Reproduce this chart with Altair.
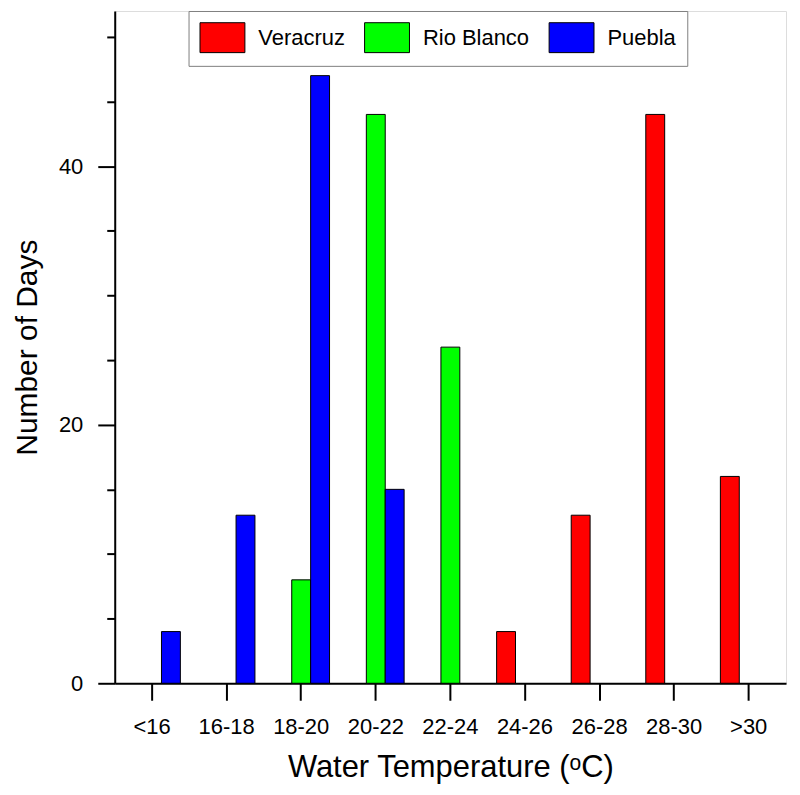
import altair as alt
import pandas as pd

categories = ["<16", "16-18", "18-20", "20-22", "22-24", "24-26", "26-28", "28-30", ">30"]
series = ["Veracruz", "Rio Blanco", "Puebla"]
veracruz = [0, 0, 0, 0, 0, 4, 13, 44, 16]
rio_blanco = [0, 0, 8, 44, 26, 0, 0, 0, 0]
puebla = [4, 13, 47, 15, 0, 0, 0, 0, 0]
colors = ["#ff0000", "#00ff00", "#0000ff"]
y_ticks = [0, 5, 10, 15, 20, 25, 30, 35, 40, 45, 50]

rows = []
for s, vals in zip(series, [veracruz, rio_blanco, puebla]):
    for c, v in zip(categories, vals):
        rows.append({"range": c, "site": s, "days": v})
df = pd.DataFrame(rows)

FONT = "Liberation Sans"

chart = (
    alt.Chart(df)
    .transform_filter("datum.days > 0")
    .mark_bar(stroke="black", strokeWidth=1)
    .encode(
        x=alt.X(
            "range:N",
            sort=categories,
            scale=alt.Scale(domain=categories, paddingInner=0.24, paddingOuter=0.12),
            axis=alt.Axis(
                title="Water Temperature (ᵒC)",
                labelAngle=0,
                labelFontSize=22,
                labelFont=FONT,
                labelColor="black",
                labelPadding=16,
                tickSize=17,
                tickWidth=2,
                tickColor="black",
                domainColor="black",
                domainWidth=2,
                titleFont=FONT,
                titleFontSize=31,
                titleFontWeight="normal",
                titleColor="black",
                titlePadding=15,
                grid=False,
            ),
        ),
        xOffset=alt.XOffset(
            "site:N",
            sort=series,
            scale=alt.Scale(domain=series, paddingInner=0, paddingOuter=0),
        ),
        y=alt.Y(
            "days:Q",
            scale=alt.Scale(domain=[0, 52], nice=False),
            axis=alt.Axis(
                title="Number of Days",
                values=y_ticks,
                labelExpr="datum.value % 20 === 0 ? datum.label : ''",
                tickSize={"condition": {"test": "datum.value % 20 === 0", "value": 17}, "value": 8},
                tickWidth=2,
                tickColor="black",
                domainColor="black",
                domainWidth=2,
                labelFontSize=22,
                labelFont=FONT,
                labelColor="black",
                labelPadding=15,
                titleFont=FONT,
                titleFontSize=30,
                titleFontWeight="normal",
                titleColor="black",
                titlePadding=16,
                grid=False,
            ),
        ),
        color=alt.Color(
            "site:N",
            sort=series,
            scale=alt.Scale(domain=series, range=colors),
            legend=alt.Legend(
                title=None,
                orient="none",
                legendX=74,
                legendY=0,
                direction="horizontal",
                columns=3,
                symbolType="M-1,-1H2V1H-1Z",
                symbolSize=900,
                symbolStrokeColor="black",
                symbolStrokeWidth=1,
                symbolOpacity=1,
                labelFont=FONT,
                labelFontSize=22,
                labelColor="black",
                labelOffset=28,
                columnPadding=17,
                padding=11,
                strokeColor="#808080",
                fillColor="white",
                cornerRadius=0,
            ),
        ),
    )
    .properties(
        width=673,
        height=674,
        padding={"left": 107, "top": 2, "right": 6, "bottom": 110},
        autosize=alt.AutoSizeParams(type="none"),
    )
    .configure_view(stroke="black", strokeWidth=2)
    .configure(background="white")
)

chart.save("out.html", embed_options={"renderer": "svg", "actions": False})
